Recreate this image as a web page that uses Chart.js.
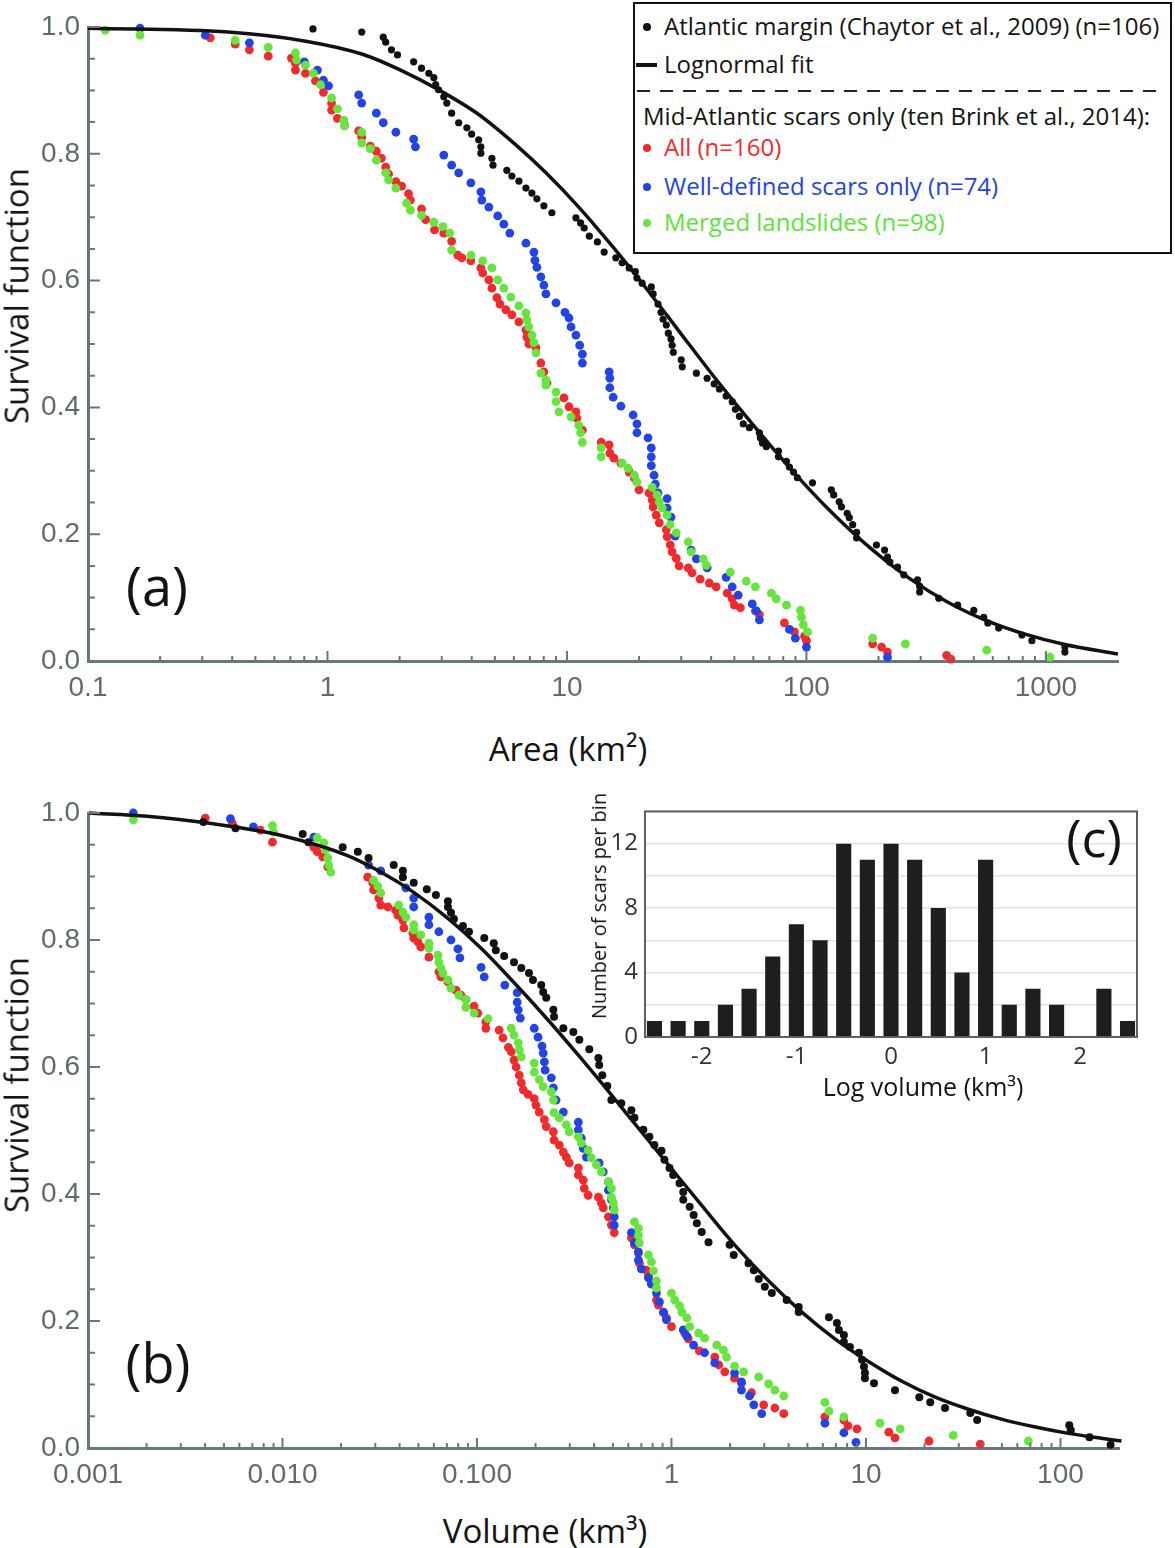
<!DOCTYPE html>
<html>
<head>
<meta charset="utf-8">
<title>Survival functions of Atlantic margin landslides</title>
<script src="https://cdn.jsdelivr.net/npm/chart.js@4.4.1/dist/chart.umd.min.js"></script>
<style>
  html, body { margin: 0; padding: 0; background: #fff; }
  #page { position: relative; width: 1175px; height: 1548px; overflow: hidden; background: #fff; }
  canvas { position: absolute; }
  #chartA { left: 0; top: 0; }
  #chartB { left: 0; top: 780px; }
  #chartC { left: 585px; top: 790px; }
  .txt { position: absolute; font-family: 'Open Sans', sans-serif; color: #141414; white-space: nowrap; line-height: 1; }
  .ctr { transform: translate(-50%, -50%); }
  .rot { transform: translate(-50%, -50%) rotate(-90deg); }
  .lg { position: absolute; font-family: 'Open Sans', sans-serif; font-size: 24px; line-height: 26px; white-space: nowrap; color: #141414; }
  .dot { position: absolute; width: 8px; height: 8px; border-radius: 50%; }
  #legendBox { position: absolute; left: 633px; top: 2px; width: 539px; height: 252px; box-sizing: border-box; border: 2.5px solid #111; background: #fff; }
  #legendRule { position: absolute; left: 637px; top: 90px; width: 526px; height: 1.6px;
                background: repeating-linear-gradient(to right, #222 0 13px, transparent 13px 23px); }
</style>
</head>
<body>
<div id="page">
  <canvas id="chartA" width="1175" height="720"></canvas>
  <canvas id="chartB" width="1175" height="720"></canvas>
  <canvas id="chartC" width="590" height="290"></canvas>

  <div class="txt rot" style="left:16px; top:296px; font-size:33px;">Survival function</div>
  <div class="txt ctr" style="left:568px; top:748px; font-size:33px;">Area (km²)</div>
  <div class="txt rot" style="left:16px; top:1085px; font-size:33px;">Survival function</div>
  <div class="txt ctr" style="left:545px; top:1530px; font-size:33px;">Volume (km³)</div>
  <div class="txt ctr" style="left:157px; top:585px; font-size:54px;">(a)</div>
  <div class="txt ctr" style="left:158px; top:1362px; font-size:54px;">(b)</div>
  <div class="txt ctr" style="left:1094px; top:837px; font-size:52px;">(c)</div>
  <div class="txt rot" style="left:599px; top:906px; font-size:20px;">Number of scars per bin</div>
  <div class="txt ctr" style="left:923px; top:1086px; font-size:25px;">Log volume (km³)</div>

  <div id="legendBox"></div>
  <div id="legendRule"></div>
  <div class="dot" style="left:643px; top:23px; background:#121212;"></div>
  <div class="lg" style="left:664px; top:13px;">Atlantic margin (Chaytor et al., 2009) (n=106)</div>
  <div style="position:absolute; left:636px; top:63px; width:21px; height:4px; background:#121212;"></div>
  <div class="lg" style="left:664px; top:51px;">Lognormal fit</div>
  <div class="lg" style="left:643px; top:103px;">Mid-Atlantic scars only (ten Brink et al., 2014):</div>
  <div class="dot" style="left:643px; top:144px; background:#f22a2e;"></div>
  <div class="lg" style="left:664px; top:134px; color:#f22a2e;">All (n=160)</div>
  <div class="dot" style="left:643px; top:183px; background:#2243e6;"></div>
  <div class="lg" style="left:664px; top:173px; color:#2243e6;">Well-defined scars only (n=74)</div>
  <div class="dot" style="left:643px; top:219px; background:#66e63c;"></div>
  <div class="lg" style="left:664px; top:209px; color:#5ee33a;">Merged landslides (n=98)</div>
</div>

<script>
// ---- panel (a): survival function vs scar area (km2), [area, S] ----
const areaAtlantic = [[0.87,0.997],[1.39,0.992],[1.71,0.984],[1.75,0.976],[1.85,0.964],[1.96,0.956],[2.29,0.945],[2.47,0.935],[2.65,0.927],[2.78,0.920],[2.83,0.909],[2.91,0.901],[3.06,0.890],[3.15,0.880],[3.30,0.864],[3.53,0.849],[3.82,0.841],[4.0,0.831],[4.28,0.822],[4.37,0.811],[4.37,0.801],[4.86,0.793],[4.91,0.782],[5.61,0.774],[5.89,0.765],[6.30,0.757],[6.74,0.746],[7.14,0.738],[7.49,0.729],[8.01,0.718],[8.65,0.707],[10.9,0.699],[11.4,0.691],[11.8,0.683],[12.4,0.670],[13.4,0.661],[14.3,0.645],[16.0,0.636],[17.0,0.628],[18.2,0.620],[19.3,0.614],[19.6,0.604],[20.6,0.596],[22.5,0.590],[22.9,0.579],[24.0,0.563],[24.7,0.550],[25.2,0.539],[26.0,0.530],[26.5,0.517],[27.2,0.508],[27.5,0.498],[27.8,0.487],[30.0,0.475],[30.3,0.464],[34.7,0.454],[38.5,0.446],[41.2,0.437],[43.3,0.429],[46.2,0.418],[49.0,0.409],[50.5,0.397],[52.5,0.386],[54.5,0.374],[57.8,0.368],[63.6,0.360],[64.2,0.352],[65.5,0.344],[68.0,0.338],[76.4,0.331],[76.4,0.322],[82.5,0.315],[84.9,0.306],[88.3,0.298],[91.7,0.289],[106,0.281],[127,0.270],[130,0.262],[137,0.251],[140,0.243],[148,0.233],[151,0.226],[156,0.215],[162,0.203],[162,0.194],[196,0.183],[212,0.175],[218,0.164],[223,0.156],[240,0.148],[255,0.136],[291,0.128],[297,0.118],[297,0.109],[357,0.099],[428,0.088],[500,0.080],[550,0.069],[572,0.060],[635,0.052],[794,0.041],[874,0.032],[1200,0.022],[1200,0.014]];
const areaFit = [[0.1,0.998],[0.385,0.992],[0.80,0.978],[1.40,0.957],[2.02,0.932],[2.91,0.901],[4.28,0.862],[6.12,0.814],[8.17,0.770],[11.2,0.716],[15.4,0.655],[21.4,0.588],[29.4,0.520],[41.2,0.448],[60.0,0.372],[87.4,0.300],[127,0.235],[185,0.178],[270,0.130],[393,0.092],[572,0.063],[825,0.042],[1200,0.026],[2000,0.011]];
const areaAll = [[0.324,0.983],[0.412,0.973],[0.472,0.964],[0.566,0.954],[0.707,0.951],[0.735,0.943],[0.735,0.932],[0.809,0.927],[0.891,0.915],[0.962,0.897],[1.04,0.880],[1.04,0.869],[1.10,0.856],[1.18,0.845],[1.35,0.836],[1.39,0.826],[1.51,0.812],[1.60,0.804],[1.68,0.793],[1.75,0.779],[1.80,0.768],[1.93,0.756],[2.04,0.749],[2.18,0.737],[2.22,0.727],[2.47,0.713],[2.57,0.696],[2.80,0.680],[3.06,0.675],[3.30,0.662],[3.50,0.640],[3.64,0.636],[3.97,0.631],[4.37,0.620],[4.45,0.612],[4.72,0.601],[4.86,0.588],[5.10,0.573],[5.25,0.563],[5.56,0.554],[5.89,0.546],[6.30,0.535],[6.74,0.522],[6.80,0.511],[6.93,0.500],[7.42,0.494],[7.78,0.470],[8.01,0.456],[8.25,0.438],[9.71,0.415],[10.2,0.401],[10.9,0.393],[11.0,0.383],[11.6,0.364],[13.9,0.345],[15.0,0.341],[15.1,0.328],[15.7,0.320],[16.8,0.312],[18.2,0.298],[19.1,0.289],[20.0,0.270],[22.0,0.265],[22.7,0.254],[22.9,0.243],[23.6,0.230],[24.3,0.218],[26.0,0.207],[26.2,0.196],[27.0,0.183],[27.5,0.172],[28.6,0.162],[29.4,0.150],[32.1,0.147],[33.3,0.139],[36.0,0.129],[39.3,0.123],[42.0,0.117],[46.7,0.107],[49.0,0.098],[50.0,0.088],[53.0,0.084],[61.2,0.079],[63.6,0.073],[80.9,0.060],[89.1,0.046],[98.2,0.039],[100,0.032],[189,0.027],[206,0.022],[218,0.014],[385,0.009],[401,0.003]];
const areaWellDefined = [[0.165,0.998],[0.309,0.987],[0.472,0.975],[0.801,0.945],[0.908,0.932],[0.962,0.916],[1.01,0.907],[1.35,0.893],[1.39,0.880],[1.60,0.864],[1.71,0.849],[1.93,0.834],[2.29,0.823],[2.33,0.811],[3.06,0.798],[3.30,0.782],[3.53,0.770],[3.97,0.754],[4.37,0.740],[4.41,0.727],[4.72,0.716],[5.14,0.702],[5.45,0.689],[5.77,0.675],[6.74,0.659],[7.28,0.645],[7.35,0.632],[7.49,0.621],[7.78,0.606],[8.01,0.593],[8.17,0.579],[9.0,0.565],[9.81,0.550],[10.2,0.541],[10.4,0.527],[10.9,0.514],[11.3,0.498],[11.6,0.484],[11.6,0.470],[15.0,0.456],[15.1,0.446],[15.1,0.431],[15.6,0.416],[16.8,0.402],[18.9,0.388],[19.6,0.374],[19.6,0.360],[21.8,0.352],[22.5,0.336],[22.5,0.322],[22.5,0.308],[23.1,0.293],[23.4,0.279],[24.0,0.265],[26.2,0.256],[26.2,0.241],[27.2,0.227],[28.3,0.197],[33.0,0.175],[34.7,0.161],[38.5,0.147],[46.2,0.132],[49.0,0.117],[51.9,0.104],[59.4,0.090],[61.8,0.079],[63.6,0.065],[84.9,0.050],[89.9,0.036],[100,0.022],[218,0.006]];
const areaMerged = [[0.118,0.995],[0.165,0.987],[0.412,0.979],[0.566,0.968],[0.735,0.959],[0.742,0.948],[0.809,0.940],[0.874,0.927],[0.935,0.909],[1.04,0.888],[1.10,0.871],[1.17,0.853],[1.18,0.844],[1.39,0.834],[1.39,0.817],[1.51,0.808],[1.60,0.790],[1.75,0.770],[1.80,0.759],[1.93,0.746],[2.14,0.722],[2.22,0.711],[2.47,0.703],[2.78,0.692],[3.03,0.685],[3.24,0.675],[3.30,0.648],[3.97,0.640],[4.45,0.631],[4.86,0.620],[5.14,0.601],[5.45,0.588],[5.83,0.574],[6.30,0.560],[6.74,0.549],[6.80,0.538],[6.93,0.527],[7.14,0.514],[7.28,0.502],[7.42,0.486],[7.78,0.454],[8.17,0.443],[8.17,0.435],[9.0,0.424],[9.0,0.409],[9.26,0.393],[10.4,0.385],[11.2,0.372],[11.4,0.360],[11.6,0.345],[13.9,0.336],[13.9,0.322],[17.0,0.312],[18.0,0.304],[19.1,0.293],[19.6,0.282],[22.7,0.274],[23.8,0.262],[24.3,0.251],[25.0,0.241],[26.2,0.230],[27.0,0.215],[28.6,0.202],[32.1,0.188],[33.0,0.172],[37.1,0.161],[38.2,0.151],[48.1,0.140],[56.1,0.126],[61.2,0.117],[71.4,0.107],[74.9,0.098],[82.5,0.088],[94.4,0.080],[95.3,0.069],[97.1,0.057],[101,0.046],[189,0.036],[259,0.027],[566,0.017],[1040,0.006]];

// ---- panel (b): survival function vs volume (km3), [volume, S] ----
const volAtlantic = [[0.00392,0.986],[0.00573,0.976],[0.0127,0.967],[0.0136,0.954],[0.0204,0.946],[0.0244,0.939],[0.0277,0.929],[0.0373,0.918],[0.0416,0.909],[0.0416,0.899],[0.0473,0.890],[0.0552,0.880],[0.0615,0.871],[0.0709,0.861],[0.0709,0.852],[0.0735,0.843],[0.0761,0.833],[0.0847,0.822],[0.0910,0.813],[0.109,0.803],[0.122,0.795],[0.125,0.784],[0.138,0.775],[0.155,0.765],[0.169,0.756],[0.185,0.748],[0.194,0.737],[0.214,0.729],[0.219,0.718],[0.227,0.709],[0.247,0.690],[0.249,0.679],[0.278,0.661],[0.313,0.655],[0.336,0.643],[0.378,0.628],[0.421,0.614],[0.425,0.603],[0.441,0.587],[0.468,0.570],[0.491,0.548],[0.552,0.543],[0.622,0.532],[0.645,0.520],[0.717,0.501],[0.770,0.490],[0.817,0.477],[0.888,0.468],[0.920,0.454],[0.977,0.441],[1.02,0.430],[1.10,0.417],[1.15,0.403],[1.15,0.391],[1.24,0.380],[1.30,0.367],[1.35,0.354],[1.43,0.340],[1.55,0.324],[1.99,0.320],[2.09,0.304],[2.49,0.291],[2.65,0.280],[2.81,0.266],[3.02,0.254],[3.28,0.244],[3.91,0.233],[4.51,0.222],[4.51,0.214],[6.45,0.206],[7.09,0.197],[7.26,0.186],[7.70,0.178],[7.70,0.167],[8.27,0.159],[9.20,0.150],[9.54,0.139],[9.77,0.128],[9.88,0.118],[9.88,0.110],[11.0,0.102],[14.1,0.091],[18.8,0.080],[21.4,0.072],[25.5,0.063],[34.4,0.055],[37.3,0.044],[111,0.036],[113,0.028],[141,0.017],[181,0.005]];
const volFit = [[0.00101,1.000],[0.00201,0.995],[0.00441,0.983],[0.00977,0.965],[0.0216,0.933],[0.0320,0.907],[0.0473,0.875],[0.0709,0.834],[0.105,0.787],[0.155,0.733],[0.232,0.674],[0.344,0.613],[0.491,0.556],[0.700,0.498],[1.0,0.440],[1.43,0.382],[2.11,0.320],[3.16,0.263],[4.68,0.214],[6.92,0.172],[10.2,0.137],[15.3,0.105],[22.7,0.080],[33.6,0.061],[50.2,0.045],[74.3,0.033],[110,0.023],[165,0.015],[206,0.011]];
const volAll = [[0.00401,0.992],[0.00552,0.984],[0.00770,0.973],[0.00888,0.954],[0.0145,0.946],[0.0151,0.939],[0.0161,0.931],[0.0171,0.915],[0.0274,0.899],[0.0291,0.890],[0.0294,0.879],[0.0313,0.866],[0.0320,0.855],[0.0348,0.852],[0.0382,0.847],[0.0392,0.839],[0.0416,0.831],[0.0421,0.819],[0.0468,0.811],[0.0473,0.803],[0.0497,0.797],[0.0514,0.789],[0.0566,0.773],[0.0637,0.750],[0.0652,0.742],[0.0709,0.734],[0.0780,0.721],[0.0827,0.713],[0.0877,0.706],[0.0966,0.696],[0.101,0.685],[0.111,0.671],[0.111,0.661],[0.130,0.658],[0.136,0.646],[0.145,0.631],[0.150,0.624],[0.155,0.611],[0.159,0.600],[0.165,0.587],[0.169,0.575],[0.173,0.564],[0.183,0.557],[0.197,0.550],[0.201,0.540],[0.209,0.529],[0.222,0.517],[0.227,0.506],[0.247,0.498],[0.249,0.485],[0.265,0.477],[0.278,0.466],[0.288,0.458],[0.298,0.449],[0.332,0.441],[0.332,0.430],[0.352,0.422],[0.356,0.409],[0.373,0.398],[0.421,0.395],[0.436,0.386],[0.446,0.378],[0.474,0.364],[0.491,0.351],[0.508,0.339],[0.622,0.331],[0.645,0.320],[0.676,0.307],[0.684,0.291],[0.743,0.280],[0.761,0.271],[0.789,0.260],[0.837,0.233],[0.857,0.225],[0.910,0.213],[0.942,0.205],[1.0,0.191],[1.17,0.181],[1.22,0.172],[1.39,0.153],[1.67,0.143],[1.75,0.131],[1.88,0.120],[2.11,0.110],[2.29,0.102],[2.58,0.087],[2.98,0.068],[3.40,0.063],[3.78,0.054],[6.15,0.049],[7.70,0.044],[8.08,0.035],[8.99,0.030],[13.1,0.025],[14.1,0.016],[21.1,0.011],[38.7,0.006]];
const volWellDefined = [[0.00171,1.000],[0.00540,0.991],[0.00709,0.978],[0.0145,0.962],[0.0277,0.918],[0.0320,0.909],[0.0431,0.882],[0.0473,0.866],[0.0473,0.852],[0.0566,0.836],[0.0566,0.824],[0.0637,0.813],[0.0735,0.800],[0.0798,0.786],[0.0817,0.772],[0.105,0.757],[0.109,0.742],[0.139,0.729],[0.161,0.717],[0.161,0.702],[0.163,0.690],[0.167,0.677],[0.197,0.661],[0.206,0.647],[0.216,0.633],[0.219,0.622],[0.222,0.608],[0.224,0.595],[0.241,0.583],[0.247,0.567],[0.255,0.548],[0.278,0.529],[0.332,0.513],[0.332,0.501],[0.344,0.488],[0.352,0.472],[0.365,0.458],[0.425,0.449],[0.446,0.435],[0.474,0.419],[0.474,0.406],[0.491,0.391],[0.502,0.378],[0.508,0.364],[0.508,0.351],[0.622,0.339],[0.645,0.323],[0.676,0.309],[0.676,0.296],[0.700,0.282],[0.761,0.268],[0.789,0.258],[0.837,0.244],[0.867,0.230],[0.910,0.214],[0.942,0.202],[1.15,0.186],[1.20,0.176],[1.30,0.162],[1.48,0.150],[1.67,0.134],[2.11,0.118],[2.29,0.104],[2.29,0.091],[2.52,0.082],[2.65,0.068],[2.91,0.054],[6.15,0.039],[7.70,0.024],[8.88,0.009]];
const volMerged = [[0.00171,0.989],[0.00888,0.980],[0.00899,0.970],[0.0151,0.961],[0.0163,0.953],[0.0167,0.942],[0.0171,0.929],[0.0173,0.918],[0.0177,0.907],[0.0294,0.894],[0.0309,0.885],[0.0320,0.874],[0.0396,0.855],[0.0416,0.844],[0.0431,0.836],[0.0473,0.824],[0.0473,0.816],[0.0514,0.808],[0.0566,0.795],[0.0566,0.787],[0.0630,0.776],[0.0637,0.765],[0.0652,0.756],[0.0668,0.748],[0.0709,0.737],[0.0735,0.724],[0.0807,0.713],[0.0877,0.706],[0.0877,0.694],[0.0966,0.685],[0.114,0.676],[0.150,0.661],[0.155,0.650],[0.163,0.638],[0.165,0.627],[0.169,0.616],[0.197,0.606],[0.197,0.592],[0.209,0.580],[0.219,0.569],[0.241,0.561],[0.247,0.548],[0.249,0.528],[0.265,0.520],[0.288,0.509],[0.298,0.498],[0.332,0.490],[0.344,0.480],[0.373,0.469],[0.387,0.457],[0.411,0.446],[0.436,0.435],[0.474,0.419],[0.491,0.409],[0.491,0.395],[0.502,0.386],[0.508,0.375],[0.645,0.356],[0.676,0.346],[0.676,0.335],[0.684,0.323],[0.761,0.304],[0.789,0.293],[0.808,0.279],[0.837,0.263],[0.837,0.252],[1.0,0.244],[1.04,0.233],[1.10,0.224],[1.13,0.214],[1.20,0.205],[1.24,0.191],[1.38,0.181],[1.48,0.173],[1.71,0.162],[1.85,0.154],[1.92,0.143],[2.11,0.129],[2.35,0.120],[2.81,0.112],[3.16,0.101],[3.40,0.091],[3.78,0.082],[6.15,0.072],[6.45,0.058],[7.70,0.049],[11.8,0.039],[15.0,0.030],[28.1,0.020],[68.4,0.011]];

// ---- panel (c): histogram of log volume ----
const binCentres = [-2.5,-2.25,-2,-1.75,-1.5,-1.25,-1,-0.75,-0.5,-0.25,0,0.25,0.5,0.75,1,1.25,1.5,1.75,2,2.25,2.5];
const binCounts = [1,1,1,2,3,5,7,6,12,11,12,11,8,4,11,2,3,2,0,3,1];

// tick labels
const areaTicks = [0.1, 1, 10, 100, 1000];
const areaTickLabels = ['0.1', '1', '10', '100', '1000'];
const volTicks = [0.001, 0.01, 0.1, 1, 10, 100];
const volTickLabels = ['0.001', '0.010', '0.100', '1', '10', '100'];
const histTicks = [-2, -1, 0, 1, 2];

const GRAY = '#68777a';
const BLACK = '#121212', RED = '#f22a2e', BLUE = '#2243e6', GREEN = '#66e63c';
const TICK_FONT = "'Liberation Sans', Arial, sans-serif";
const TEXT_FONT = "'Open Sans', sans-serif";

// 2..9 times each decade, used only for the small inward tick marks
function logMinor(lo, hi) {
    const out = [];
    for (let d = Math.floor(Math.log10(lo)); d <= Math.ceil(Math.log10(hi)); d++) {
        for (let k = 2; k <= 9; k++) {
            const v = k * Math.pow(10, d);
            if (v > lo && v < hi) out.push(v);
        }
    }
    return out;
}

const yMajor = [0.2, 0.4, 0.6, 0.8, 1.0];
const yMinor = [0.05, 0.1, 0.15, 0.25, 0.3, 0.35, 0.45, 0.5, 0.55, 0.65, 0.7, 0.75, 0.85, 0.9, 0.95];

// tick marks pointing into the plot, as in the original figure
const inTicks = {
    id: 'inTicks',
    afterDatasetsDraw(chart, args, o) {
        const { ctx, chartArea: a, scales: { x, y } } = chart;
        ctx.save();
        ctx.strokeStyle = GRAY;
        ctx.lineWidth = 2;
        ctx.beginPath();
        o.xMajor.forEach(v => { const p = x.getPixelForValue(v); ctx.moveTo(p, a.bottom); ctx.lineTo(p, a.bottom - 10); });
        o.xMinor.forEach(v => { const p = x.getPixelForValue(v); ctx.moveTo(p, a.bottom); ctx.lineTo(p, a.bottom - 5); });
        yMajor.forEach(v => { const p = y.getPixelForValue(v); ctx.moveTo(a.left, p); ctx.lineTo(a.left + 12, p); });
        yMinor.forEach(v => { const p = y.getPixelForValue(v); ctx.moveTo(a.left, p); ctx.lineTo(a.left + 7, p); });
        ctx.stroke();
        ctx.restore();
    }
};

function dots(data, color, r) {
    return { data: data, backgroundColor: color, borderColor: color, borderWidth: 0, pointRadius: r, pointHoverRadius: r, clip: false };
}

function survivalChart(id, o) {
    return new Chart(document.getElementById(id), {
        type: 'scatter',
        data: {
            datasets: [
                { data: o.fit, showLine: true, borderColor: BLACK, borderWidth: 3.5, pointRadius: 0, cubicInterpolationMode: 'monotone', fill: false, clip: false },
                dots(o.atlantic, BLACK, o.blackR),
                dots(o.merged, GREEN, 4.4),
                dots(o.well, BLUE, 4.4),
                dots(o.all, RED, 4.4)
            ]
        },
        options: {
            responsive: false,
            animation: false,
            devicePixelRatio: 1,
            layout: { padding: { top: o.padTop, right: o.padRight, left: 0, bottom: 0 } },
            plugins: {
                legend: { display: false },
                tooltip: { enabled: false },
                inTicks: { xMajor: o.ticks, xMinor: logMinor(o.min, o.max) }
            },
            scales: {
                x: {
                    type: 'logarithmic',
                    min: o.min,
                    max: o.max,
                    grid: { display: false, drawTicks: false },
                    border: { display: true, color: GRAY, width: 3 },
                    afterBuildTicks: s => { s.ticks = o.ticks.map(v => ({ value: v })); },
                    afterFit: s => { s.height = o.xHeight; },
                    ticks: {
                        autoSkip: false, maxRotation: 0, padding: 10, color: '#5f6b6d',
                        font: { family: TICK_FONT, size: 28 },
                        callback: (v, i) => o.labels[i]
                    }
                },
                y: {
                    min: 0,
                    max: 1,
                    grid: { display: false, drawTicks: false },
                    border: { display: true, color: GRAY, width: 3 },
                    afterFit: s => { s.width = 88; },
                    ticks: {
                        stepSize: 0.2, padding: 8, color: '#5f6b6d',
                        font: { family: TICK_FONT, size: 28 },
                        callback: v => v.toFixed(1)
                    }
                }
            }
        },
        plugins: [inTicks]
    });
}

survivalChart('chartA', {
    fit: areaFit, atlantic: areaAtlantic, all: areaAll, well: areaWellDefined, merged: areaMerged,
    min: 0.1, max: 2000, ticks: areaTicks, labels: areaTickLabels,
    padTop: 27, padRight: 57, xHeight: 59, blackR: 3.6
});

survivalChart('chartB', {
    fit: volFit, atlantic: volAtlantic, all: volAll, well: volWellDefined, merged: volMerged,
    min: 0.001, max: 200, ticks: volTicks, labels: volTickLabels,
    padTop: 33, padRight: 56, xHeight: 52, blackR: 4.0
});

// white plot background and grey frame for the inset
const frame = {
    id: 'frame',
    beforeDatasetsDraw(chart) {
        const { ctx, chartArea: a } = chart;
        ctx.save();
        ctx.globalCompositeOperation = 'destination-over';
        ctx.fillStyle = '#fff';
        ctx.fillRect(a.left, a.top, a.right - a.left, a.bottom - a.top);
        ctx.restore();
    },
    afterDraw(chart) {
        const { ctx, chartArea: a } = chart;
        ctx.save();
        ctx.strokeStyle = '#5b6163';
        ctx.lineWidth = 2;
        ctx.strokeRect(a.left, a.top, a.right - a.left, a.bottom - a.top);
        ctx.restore();
    }
};

new Chart(document.getElementById('chartC'), {
    type: 'bar',
    data: {
        datasets: [{
            data: binCentres.map((c, i) => ({ x: c, y: binCounts[i] })),
            backgroundColor: '#1e1e20',
            barPercentage: 0.64,
            categoryPercentage: 1
        }]
    },
    options: {
        responsive: false,
        animation: false,
        devicePixelRatio: 1,
        layout: { padding: { top: 13, right: 38, left: 0, bottom: 0 } },
        plugins: { legend: { display: false }, tooltip: { enabled: false } },
        scales: {
            x: {
                type: 'linear',
                min: -2.6,
                max: 2.6,
                offset: false,
                grid: { display: false, drawTicks: false },
                border: { display: false },
                afterBuildTicks: s => { s.ticks = histTicks.map(v => ({ value: v })); },
                afterFit: s => { s.height = 43; },
                ticks: { padding: 6, color: '#333', font: { family: TEXT_FONT, size: 24 } }
            },
            y: {
                min: 0,
                max: 14,
                grid: { color: '#dde4e4', lineWidth: 1.5, drawTicks: false },
                border: { display: false },
                afterFit: s => { s.width = 60; },
                ticks: {
                    stepSize: 2, padding: 7, color: '#333',
                    font: { family: TEXT_FONT, size: 24 },
                    callback: v => (v % 4 === 0 ? v : '')
                }
            }
        }
    },
    plugins: [frame]
});
</script>
</body>
</html>
